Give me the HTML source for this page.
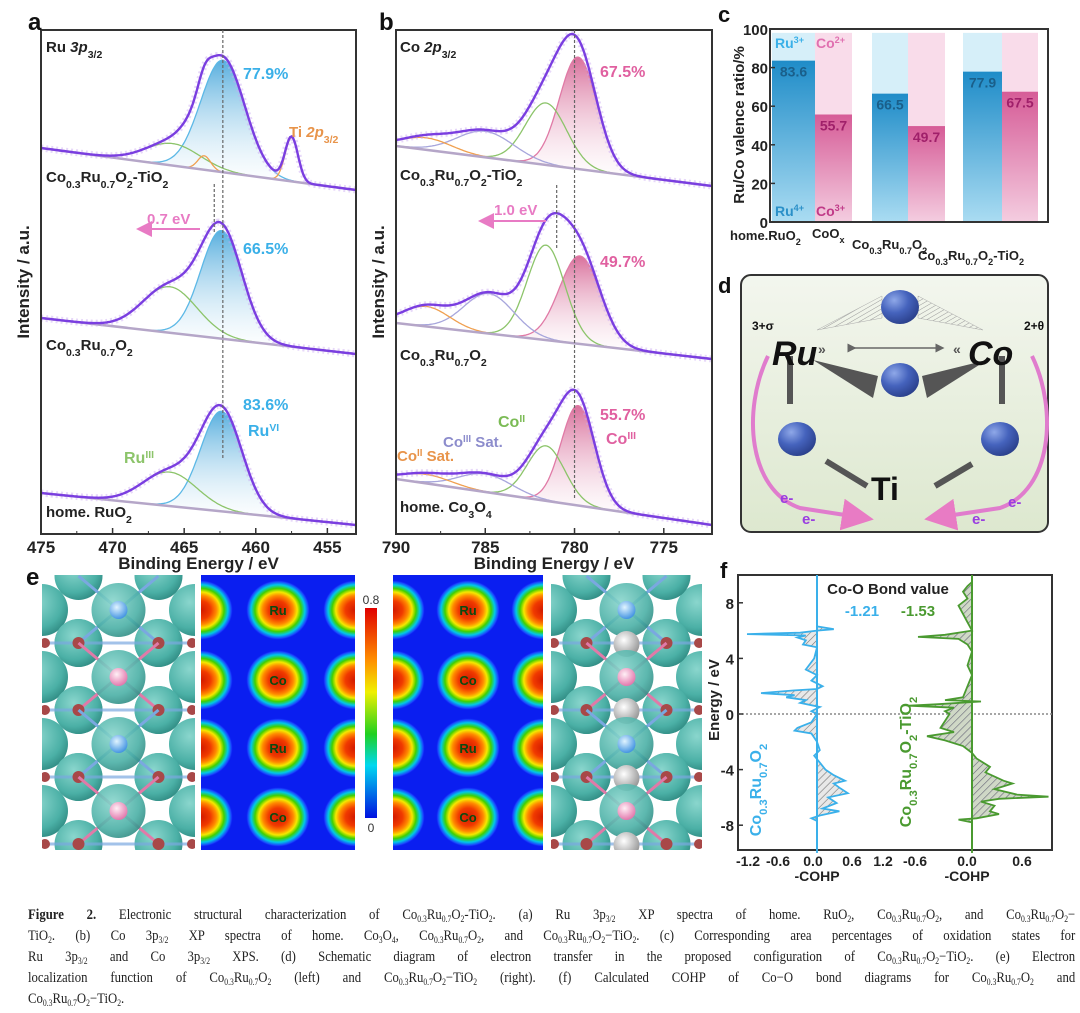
<!DOCTYPE html>
<html><head><meta charset="utf-8">
<style>
body{margin:0;background:#fff;width:1080px;height:1013px;overflow:hidden;position:relative;font-family:"Liberation Sans",sans-serif}
svg{position:absolute;left:0;top:0}
#cap{position:absolute;left:28px;top:905px;width:1232px;transform:scaleX(0.85);transform-origin:0 0;font-family:"Liberation Serif",serif;font-size:15px;line-height:21px;color:#222}
#cap div{text-align:justify;text-align-last:justify;white-space:nowrap}
#cap div.last{text-align-last:left}
sub{font-size:9px;vertical-align:-3px;line-height:0}
</style></head><body>
<svg id="fig" width="1080" height="1013" viewBox="0 0 1080 1013">
<defs>
<linearGradient id="gBlue" x1="0" y1="0" x2="0" y2="1"><stop offset="0" stop-color="#3aa0d8" stop-opacity="0.85"/><stop offset="1" stop-color="#ffffff" stop-opacity="0.2"/></linearGradient>
<linearGradient id="gPink" x1="0" y1="0" x2="0" y2="1"><stop offset="0" stop-color="#d2578a" stop-opacity="0.85"/><stop offset="1" stop-color="#ffffff" stop-opacity="0.2"/></linearGradient>
<linearGradient id="barBlue" x1="0" y1="0" x2="0" y2="1"><stop offset="0" stop-color="#1f8cc8"/><stop offset="1" stop-color="#aadcf2"/></linearGradient>
<linearGradient id="barPink" x1="0" y1="0" x2="0" y2="1"><stop offset="0" stop-color="#d65c97"/><stop offset="1" stop-color="#f4cde0"/></linearGradient>
<linearGradient id="boxG" x1="0" y1="0" x2="0" y2="1"><stop offset="0" stop-color="#f3f6ee"/><stop offset="1" stop-color="#dde8cf"/></linearGradient>
<radialGradient id="ball" cx="0.35" cy="0.3" r="0.75"><stop offset="0" stop-color="#8fa8e8"/><stop offset="0.5" stop-color="#4563bd"/><stop offset="1" stop-color="#2a3f8a"/></radialGradient>
<radialGradient id="blob"><stop offset="0" stop-color="#d21a00"/><stop offset="0.3" stop-color="#f03a00"/><stop offset="0.48" stop-color="#ff8a00"/><stop offset="0.6" stop-color="#f5e800"/><stop offset="0.72" stop-color="#40d000"/><stop offset="0.84" stop-color="#00c8e8"/><stop offset="0.95" stop-color="#1a40ff"/><stop offset="1" stop-color="#0a1ef0" stop-opacity="0"/></radialGradient>
<linearGradient id="cbar" x1="0" y1="0" x2="0" y2="1"><stop offset="0" stop-color="#e00000"/><stop offset="0.25" stop-color="#ff9000"/><stop offset="0.4" stop-color="#f0f000"/><stop offset="0.6" stop-color="#20d020"/><stop offset="0.75" stop-color="#00d8f0"/><stop offset="1" stop-color="#0010e0"/></linearGradient>
<radialGradient id="teal" cx="0.4" cy="0.35" r="0.7"><stop offset="0" stop-color="#8ad6cd"/><stop offset="0.7" stop-color="#4bb0a6"/><stop offset="1" stop-color="#2f8a82"/></radialGradient>
<radialGradient id="atomB" cx="0.4" cy="0.35" r="0.7"><stop offset="0" stop-color="#e0f4ff"/><stop offset="1" stop-color="#3a8ee0"/></radialGradient>
<radialGradient id="atomP" cx="0.4" cy="0.35" r="0.7"><stop offset="0" stop-color="#fff0f6"/><stop offset="1" stop-color="#e070a8"/></radialGradient>
<radialGradient id="atomG" cx="0.4" cy="0.35" r="0.7"><stop offset="0" stop-color="#ffffff"/><stop offset="1" stop-color="#909090"/></radialGradient>
<pattern id="hatch" width="5" height="5" patternUnits="userSpaceOnUse" patternTransform="rotate(45)"><rect width="5" height="5" fill="#e8e8e8"/><line x1="0" y1="0" x2="0" y2="5" stroke="#777" stroke-width="1.2"/></pattern>
<pattern id="hatchG" width="5" height="5" patternUnits="userSpaceOnUse" patternTransform="rotate(45)"><rect width="5" height="5" fill="#cfd8c6"/><line x1="0" y1="0" x2="0" y2="5" stroke="#667" stroke-width="1.2"/></pattern>
<pattern id="hatchD" width="4" height="4" patternUnits="userSpaceOnUse" patternTransform="rotate(60)"><line x1="0" y1="0" x2="0" y2="4" stroke="#999" stroke-width="1"/></pattern>
<marker id="arrP" markerWidth="8" markerHeight="8" refX="4" refY="4" orient="auto"><path d="M0,0 L8,4 L0,8z" fill="#e87bc4"/></marker>
<marker id="arrK" markerWidth="6" markerHeight="6" refX="3" refY="3" orient="auto"><path d="M0,0 L6,3 L0,6z" fill="#666"/></marker>
</defs>
</svg>
<div id="cap">
<div><b>Figure 2.</b> Electronic structural characterization of Co<sub>0.3</sub>Ru<sub>0.7</sub>O<sub>2</sub>-TiO<sub>2</sub>. (a) Ru 3p<sub>3/2</sub> XP spectra of home. RuO<sub>2</sub>, Co<sub>0.3</sub>Ru<sub>0.7</sub>O<sub>2</sub>, and Co<sub>0.3</sub>Ru<sub>0.7</sub>O<sub>2</sub>−</div>
<div>TiO<sub>2</sub>. (b) Co 3p<sub>3/2</sub> XP spectra of home. Co<sub>3</sub>O<sub>4</sub>, Co<sub>0.3</sub>Ru<sub>0.7</sub>O<sub>2</sub>, and Co<sub>0.3</sub>Ru<sub>0.7</sub>O<sub>2</sub>−TiO<sub>2</sub>. (c) Corresponding area percentages of oxidation states for</div>
<div>Ru 3p<sub>3/2</sub> and Co 3p<sub>3/2</sub> XPS. (d) Schematic diagram of electron transfer in the proposed configuration of Co<sub>0.3</sub>Ru<sub>0.7</sub>O<sub>2</sub>−TiO<sub>2</sub>. (e) Electron</div>
<div>localization function of Co<sub>0.3</sub>Ru<sub>0.7</sub>O<sub>2</sub> (left) and Co<sub>0.3</sub>Ru<sub>0.7</sub>O<sub>2</sub>−TiO<sub>2</sub> (right). (f) Calculated COHP of Co−O bond diagrams for Co<sub>0.3</sub>Ru<sub>0.7</sub>O<sub>2</sub> and</div>
<div class="last">Co<sub>0.3</sub>Ru<sub>0.7</sub>O<sub>2</sub>−TiO<sub>2</sub>.</div>
</div>
<script>
// ---------- data ----------
const ruTopPeaks = [[462.3,112,1.55],[465.8,22,1.9],[463.6,14,0.45],[457.5,44,0.45]];
const ruMidPeaks = [[462.4,108,1.45],[466.0,46,1.9]];
const ruBotPeaks = [[462.4,100,1.45],[466.0,34,1.9]];
const ruBaselines = [[148,190],[318,354],[493,525]];
const coTopPeaks = [[779.8,112,1.05],[781.6,62,1.15],[785.0,26,1.6],[788.3,12,1.4]];
const coMidPeaks = [[779.7,88,1.15],[781.6,95,1.05],[784.8,40,1.4],[788.3,20,1.3]];
const coBotPeaks = [[779.8,100,0.95],[781.6,55,1.05],[785.0,18,1.5],[788.3,9,1.4]];
const coBaselines = [[146,186],[323,359],[479,525]];
const cCats = ["home.RuO2/CoOx","Co0.3Ru0.7O2","Co0.3Ru0.7O2-TiO2"];
const ruValues = [83.6,66.5,77.9];
const coValues = [55.7,49.7,67.5];
const cTicks = [0,20,40,60,80,100];
const cohpBlue = [[9.5,0],[6.3,0],[6.1,0.3],[6.0,0],[5.85,-0.3],[5.75,-1.25],[5.65,-0.2],[5.5,-0.35],[5.3,-0.2],[5.0,-0.25],[4.8,0],[4.0,-0.05],[3.2,-0.2],[2.8,0],[2.4,-0.1],[2.0,0.1],[1.8,0],[1.7,-0.4],[1.5,-1.0],[1.35,-0.4],[1.2,-0.55],[1.0,-0.2],[0.8,-0.3],[0.5,0.05],[0.2,-0.1],[0,0],[-0.6,-0.1],[-1.0,-0.35],[-1.2,-0.4],[-1.4,-0.1],[-2.0,0],[-2.6,0.05],[-3.0,-0.05],[-3.5,0.05],[-4.0,0.15],[-4.4,0.3],[-4.8,0.5],[-5.0,0.3],[-5.3,0.4],[-5.7,0.55],[-6.0,0.2],[-6.4,0.35],[-6.8,0.1],[-7.0,0.4],[-7.3,0.05],[-7.5,-0.1],[-7.7,0],[-10,0]];
const cohpGreen = [[9.5,0],[9.2,-0.05],[8.8,-0.1],[8.3,-0.05],[7.8,-0.15],[7.2,-0.1],[6.6,-0.05],[6.0,0],[5.7,-0.3],[5.55,-0.6],[5.4,-0.15],[5.0,-0.05],[4.5,0],[3.5,-0.05],[2.8,0],[2.0,-0.05],[1.2,-0.1],[1.0,-0.3],[0.9,0.1],[0.7,-0.4],[0.6,-0.7],[0.45,-0.2],[0.2,-0.3],[0,-0.25],[-0.5,-0.3],[-1.0,-0.35],[-1.3,-0.2],[-1.6,-0.5],[-1.9,-0.3],[-2.3,-0.1],[-2.8,0],[-3.2,0.05],[-3.8,0.2],[-4.2,0.15],[-4.8,0.35],[-5.0,0.45],[-5.4,0.25],[-5.8,0.5],[-5.95,0.85],[-6.1,0.3],[-6.3,0.1],[-6.6,0.25],[-7.0,0.2],[-7.2,0.3],[-7.5,0.05],[-7.6,-0.15],[-7.8,0],[-10,0]];
const fTicksY = [8,4,0,-4,-8];

// ---------- helpers ----------
const svg = document.getElementById('fig');
const NS = 'http://www.w3.org/2000/svg';
function mk(tag, attrs, parent){const e=document.createElementNS(NS,tag);for(const k in attrs)e.setAttribute(k,attrs[k]);(parent||svg).appendChild(e);return e;}
function txt(x,y,html,attrs,parent){const t=mk('text',Object.assign({x:x,y:y},attrs||{}),parent);t.innerHTML=html;return t;}
const SUB='<tspan baseline-shift="sub" font-size="70%">';
function formula(a,b,c){return 'Co'+SUB+'0.3</tspan>Ru'+SUB+'0.7</tspan>O'+SUB+'2</tspan>'+(c||'');}
function gauss(x,p){return p[1]*Math.exp(-Math.pow(x-p[0],2)/(2*p[2]*p[2]));}

// ---------- XPS panels ----------
function xpsPanel(x0,x1,eL,eR,peaks,bases,colors,fills,name){
  const xs=e=>x0+(eL-e)*(x1-x0)/(eL-eR);
  const g=mk('g',{});
  
  
  peaks.forEach((set,si)=>{
    const bl=bases[si];
    const base=e=>bl[0]+(bl[1]-bl[0])*(eL-e)/(eL-eR);
    const N=220;
    set.forEach((p,pi)=>{
      let d='';
      for(let i=0;i<=N;i++){const e=eL-(eL-eR)*i/N;const y=base(e)-gauss(e,p);d+=(i?'L':'M')+xs(e).toFixed(1)+','+y.toFixed(1);}
      if(fills[pi]){
        let poly=d;for(let i=N;i>=0;i--){const e=eL-(eL-eR)*i/N;poly+='L'+xs(e).toFixed(1)+','+base(e).toFixed(1);}
        const fp=mk('path',{d:poly+'Z',fill:fills[pi],stroke:'none'},g);
        
        
      }
      const cp=mk('path',{d:d,fill:'none',stroke:colors[pi],'stroke-width':1.3},g);
      
      
    });
    const bp=mk('path',{d:'M'+x0+','+bl[0]+'L'+x1+','+bl[1],stroke:'#b5a6c8','stroke-width':2.5,fill:'none'},g);
    
    
    let d='';
    for(let i=0;i<=N;i++){const e=eL-(eL-eR)*i/N;let y=base(e);set.forEach(p=>y-=gauss(e,p));d+=(i?'L':'M')+xs(e).toFixed(1)+','+y.toFixed(1);}
    const sc=mk('path',{d:d,fill:'none',stroke:'#c9a8f2','stroke-width':7,'stroke-opacity':0.45,'stroke-dasharray':'2 3'},g);
    
    
    const ev=mk('path',{d:d,fill:'none',stroke:'#7a3ee0','stroke-width':2.4},g);
    
    
  });
  return xs;
}
const xa=xpsPanel(41,356,475,453,[ruTopPeaks,ruMidPeaks,ruBotPeaks],ruBaselines,['#5cb8e6','#8cc46a','#f0a050','#f0a050'],['url(#gBlue)',null,null,null],'panel-a-spectra');
const xb=xpsPanel(396,712,790,772.3,[coTopPeaks,coMidPeaks,coBotPeaks],coBaselines,['#e07aa6','#8cc46a','#a7a6dc','#f0a050'],['url(#gPink)',null,null,null],'panel-b-spectra');

function xpsAxes(x0,x1,xs,ticks,minor,name){
  const f=mk('rect',{x:x0,y:30,width:x1-x0,height:504,fill:'none',stroke:'#333','stroke-width':2});
  
  
  ticks.forEach(t=>{
    const l=mk('line',{x1:xs(t),x2:xs(t),y1:534,y2:528,stroke:'#333','stroke-width':1.5});
    
    
    const tl=txt(xs(t),553,String(t),{'text-anchor':'middle','font-size':17,'font-weight':'bold',fill:'#222'});
    
    
  });
  minor.forEach(t=>{
    const l=mk('line',{x1:xs(t),x2:xs(t),y1:534,y2:531,stroke:'#333','stroke-width':1});
    
    
  });
  const xt=txt((x0+x1)/2,569,'Binding Energy / eV',{'text-anchor':'middle','font-size':17,'font-weight':'bold',fill:'#222'});
  
  
  const yt=txt(0,0,'Intensity / a.u.',{'text-anchor':'middle','font-size':17,'font-weight':'bold',fill:'#222',transform:'translate('+(x0-12)+',282) rotate(-90)'});
  
  
}
xpsAxes(41,356,xa,[475,470,465,460,455],[472.5,467.5,462.5,457.5],'panel-a');
xpsAxes(396,712,xb,[790,785,780,775],[787.5,782.5,777.5],'panel-b');

[[xa(462.3),30,460],[xa(462.9),184,232],[xb(780),30,500],[xb(781),185,250]].forEach(a=>{
  const l=mk('line',{x1:a[0],x2:a[0],y1:a[1],y2:a[2],stroke:'#666','stroke-width':1.2,'stroke-dasharray':'3 2'});
  
  
});
[[200,138,229],[546,480,221]].forEach(a=>{
  const l=mk('line',{x1:a[0],x2:a[1]+6,y1:a[2],y2:a[2],stroke:'#e87bc4','stroke-width':2,'marker-end':'url(#arrP)'});
  
  
});

const labels=[
 [28,30,'a',24,'#111','panel-a-label'],[379,30,'b',24,'#111','panel-b-label'],[718,22,'c',22,'#111','panel-c-label'],[718,293,'d',22,'#111','panel-d-label'],[26,585,'e',24,'#111','panel-e-label'],[720,578,'f',22,'#111','panel-f-label'],
 [46,52,'Ru <tspan font-style="italic">3p</tspan>'+SUB+'3/2</tspan>',15,'#222','panel-a-title'],
 [400,52,'Co <tspan font-style="italic">2p</tspan>'+SUB+'3/2</tspan>',15,'#222','panel-b-title'],
 [243,79,'77.9%',16,'#3ab0e8','percent-ru-top'],[243,254,'66.5%',16,'#3ab0e8','percent-ru-mid'],[243,410,'83.6%',16,'#3ab0e8','percent-ru-bot'],
 [248,436,'Ru<tspan baseline-shift="super" font-size="65%">VI</tspan>',16,'#3ab0e8','ru-vi-label'],
 [124,463,'Ru<tspan baseline-shift="super" font-size="65%">III</tspan>',16,'#8cc46a','ru-iii-label'],
 [289,137,'Ti <tspan font-style="italic">2p</tspan>'+SUB+'3/2</tspan>',15,'#e8944a','ti-2p-label'],
 [147,224,'0.7 eV',15,'#e87bc4','shift-0.7ev'],[494,215,'1.0 eV',15,'#e87bc4','shift-1.0ev'],
 [600,77,'67.5%',16,'#e060a0','percent-co-top'],[600,267,'49.7%',16,'#e060a0','percent-co-mid'],[600,420,'55.7%',16,'#e060a0','percent-co-bot'],
 [606,444,'Co<tspan baseline-shift="super" font-size="65%">III</tspan>',16,'#e060a0','co-iii-label'],
 [498,427,'Co<tspan baseline-shift="super" font-size="65%">II</tspan>',16,'#7bbb55','co-ii-label'],
 [443,447,'Co<tspan baseline-shift="super" font-size="65%">III</tspan> Sat.',15,'#8c8ccc','co-iii-sat-label'],
 [397,461,'Co<tspan baseline-shift="super" font-size="65%">II</tspan> Sat.',15,'#e8944a','co-ii-sat-label'],
 [46,182,formula()+'-TiO'+SUB+'2</tspan>',15,'#222','label-cro-tio2-a'],[46,350,formula(),15,'#222','label-cro-a'],[46,517,'home. RuO'+SUB+'2</tspan>',15,'#222','label-ruo2'],
 [400,180,formula()+'-TiO'+SUB+'2</tspan>',15,'#222','label-cro-tio2-b'],[400,360,formula(),15,'#222','label-cro-b'],[400,512,'home. Co'+SUB+'3</tspan>O'+SUB+'4</tspan>',15,'#222','label-co3o4']
];
labels.forEach(l=>{const t=txt(l[0],l[1],l[2],{'font-size':l[3],'font-weight':'bold',fill:l[4]});});

// ---------- panel c ----------
const cx0=770,cx1=1048,cyTop=29,cyBot=222;
const yc=v=>cyBot-(v/100)*(cyBot-cyTop);
const barL=[[772,815,852],[872,908,945],[963,1002,1038]];
cCats.forEach((c,i)=>{
  const b=barL[i];
  const bg1=mk('rect',{x:b[0],y:yc(98),width:b[1]-b[0],height:yc(0)-yc(98),fill:'#d6eff9'});
  
  
  const bg2=mk('rect',{x:b[1],y:yc(98),width:b[2]-b[1],height:yc(0)-yc(98),fill:'#f9dcea'});
  
  
  const r1=mk('rect',{x:b[0],y:yc(ruValues[i]),width:b[1]-b[0],height:yc(0)-yc(ruValues[i]),fill:'url(#barBlue)'});
  
  
  const r2=mk('rect',{x:b[1],y:yc(coValues[i]),width:b[2]-b[1],height:yc(0)-yc(coValues[i]),fill:'url(#barPink)'});
  
  
  const t1=txt((b[0]+b[1])/2,yc(ruValues[i])+16,ruValues[i].toFixed(1),{'text-anchor':'middle','font-size':14,'font-weight':'bold',fill:'#1a5f8a'});
  
  
  const t2=txt((b[1]+b[2])/2,yc(coValues[i])+16,coValues[i].toFixed(1),{'text-anchor':'middle','font-size':14,'font-weight':'bold',fill:'#a0206a'});
  
  
});
const cf=mk('rect',{x:cx0,y:cyTop,width:cx1-cx0,height:cyBot-cyTop,fill:'none',stroke:'#333','stroke-width':2});


cTicks.forEach(t=>{
  const l=mk('line',{x1:cx0,x2:cx0+5,y1:yc(t),y2:yc(t),stroke:'#333','stroke-width':1.5});
  
  
  const tl=txt(cx0-2,yc(t)+6,String(t),{'text-anchor':'end','font-size':15,'font-weight':'bold',fill:'#222'});
  
  
});
[[775,48,'Ru<tspan baseline-shift="super" font-size="65%">3+</tspan>','#3ab0e8'],[816,48,'Co<tspan baseline-shift="super" font-size="65%">2+</tspan>','#e070b0'],[775,216,'Ru<tspan baseline-shift="super" font-size="65%">4+</tspan>','#2a90c8'],[816,216,'Co<tspan baseline-shift="super" font-size="65%">3+</tspan>','#c03a88']].forEach((a,i)=>{
  const t=txt(a[0],a[1],a[2],{'font-size':14,'font-weight':'bold',fill:a[3]});
  
  
});
const cyT=txt(0,0,'Ru/Co valence ratio/%',{'text-anchor':'middle','font-size':15,'font-weight':'bold',fill:'#222',transform:'translate(744,125) rotate(-90)'});


[[730,240,'home.RuO'+SUB+'2</tspan>'],[812,238,'CoO'+SUB+'x</tspan>'],[852,249,formula()],[918,260,formula()+'-TiO'+SUB+'2</tspan>']].forEach((a,i)=>{
  const t=txt(a[0],a[1],a[2],{'font-size':13,'font-weight':'bold',fill:'#222'});
  
  
});

// ---------- panel d ----------
const dg=mk('g',{});


const box=mk('rect',{x:741,y:275,width:307,height:257,rx:10,fill:'url(#boxG)',stroke:'#333','stroke-width':2},dg);


const shapes=[
 ['polygon',{points:'817,330 882,296 882,318',fill:'url(#hatchD)',stroke:'#aaa','stroke-width':0.5},'hatched-wedge-left'],
 ['polygon',{points:'983,330 918,296 918,318',fill:'url(#hatchD)',stroke:'#aaa','stroke-width':0.5},'hatched-wedge-right'],
 ['polygon',{points:'813,360 878,376 873,398',fill:'#555'},'wedge-left'],
 ['polygon',{points:'987,360 922,376 927,398',fill:'#555'},'wedge-right'],
 ['line',{x1:790,y1:356,x2:790,y2:404,stroke:'#555','stroke-width':6},'bond-left'],
 ['line',{x1:1002,y1:356,x2:1002,y2:404,stroke:'#555','stroke-width':6},'bond-right'],
 ['line',{x1:826,y1:461,x2:867,y2:486,stroke:'#555','stroke-width':6},'bond-ti-left'],
 ['line',{x1:935,y1:486,x2:972,y2:464,stroke:'#555','stroke-width':6},'bond-ti-right'],
 ['line',{x1:852,y1:348,x2:940,y2:348,stroke:'#666','stroke-width':1.5,'marker-end':'url(#arrK)','marker-start':'url(#arrK)'},'double-arrow'],
 ['path',{d:'M768,356 C742,410 748,490 800,508 L858,517',fill:'none',stroke:'#e07ccd','stroke-width':4,'marker-end':'url(#arrP)'},'electron-arc-left'],
 ['path',{d:'M1032,356 C1058,410 1052,490 1000,508 L940,517',fill:'none',stroke:'#e07ccd','stroke-width':4,'marker-end':'url(#arrP)'},'electron-arc-right']
];
shapes.forEach(s=>{const e=mk(s[0],s[1],dg);});
[[900,307],[900,380],[797,439],[1000,439]].forEach((c,i)=>{
  const b=mk('ellipse',{cx:c[0],cy:c[1],rx:19,ry:17,fill:'url(#ball)'},dg);
  
  
});
[[772,365,'Ru',34,'#111','italic','ru-label'],[968,365,'Co',34,'#111','italic','co-label'],[871,500,'Ti',32,'#111','normal','ti-label'],
 [752,330,'3+σ',12,'#111','normal','ru-charge'],[1024,330,'2+θ',12,'#111','normal','co-charge'],
 [818,354,'»',14,'#555','normal','ru-chevron'],[953,354,'«',14,'#555','normal','co-chevron'],
 [780,503,'e-',15,'#9a3ee0','normal','electron-1'],[802,524,'e-',15,'#9a3ee0','normal','electron-2'],[1008,507,'e-',15,'#9a3ee0','normal','electron-3'],[972,524,'e-',15,'#9a3ee0','normal','electron-4']
].forEach(a=>{const t=txt(a[0],a[1],a[2],{'font-size':a[3],'font-weight':'bold',fill:a[4],'font-style':a[5]},dg);});

// ---------- panel e ----------
function structure(x0,x1,withTi,name){
  const g=mk('g',{});
  
  
  const cid='clip'+name;
  const cp=mk('clipPath',{id:cid},g);mk('rect',{x:x0,y:575,width:x1-x0,height:275},cp);
  const inner=mk('g',{'clip-path':'url(#'+cid+')'},g);
  mk('rect',{x:x0,y:575,width:x1-x0,height:275,fill:'#fff'},inner);
  const cx=(x0+x1)/2;const rows=[610,677,744,811];
  rows.forEach((y,i)=>{
    [x0,x1].forEach(xx=>mk('circle',{cx:xx,cy:y,r:26,fill:'url(#teal)'},inner));
    [cx-40,cx+40].forEach(xx=>{mk('circle',{cx:xx,cy:y+33,r:24,fill:'url(#teal)'},inner);mk('circle',{cx:xx,cy:y-34,r:24,fill:'url(#teal)'},inner);});
  });
  rows.forEach((y,i)=>{
    mk('line',{x1:cx-40,y1:y+33,x2:cx+40,y2:y-34,stroke:i%2?'#e07aa8':'#7aa8e0','stroke-width':3},inner);
    mk('line',{x1:cx+40,y1:y+33,x2:cx-40,y2:y-34,stroke:i%2?'#e07aa8':'#7aa8e0','stroke-width':3},inner);
    mk('line',{x1:x0,y1:y+33,x2:x1,y2:y+33,stroke:'#7aa8e0','stroke-width':3,'stroke-opacity':0.7},inner);
    mk('circle',{cx:cx,cy:y,r:27,fill:'url(#teal)','fill-opacity':0.9},inner);
    if(withTi) mk('circle',{cx:cx,cy:y+34,r:13,fill:'url(#atomG)'},inner);
    mk('circle',{cx:cx,cy:y,r:9,fill:i%2?'url(#atomP)':'url(#atomB)'},inner);
    [cx-40,cx+40].forEach(xx=>mk('circle',{cx:xx,cy:y+33,r:6,fill:'#a84848'},inner));
    [x0+3,x1-3].forEach(xx=>mk('circle',{cx:xx,cy:y+33,r:5,fill:'#a84848'},inner));
  });
}
structure(42,195,false,'elf-structure-left');
structure(551,702,true,'elf-structure-right');
function heatmap(x0,x1,labs,name){
  const g=mk('g',{});
  
  
  const cid='clip'+name;
  const cp=mk('clipPath',{id:cid},g);mk('rect',{x:x0,y:575,width:x1-x0,height:275},cp);
  const inner=mk('g',{'clip-path':'url(#'+cid+')'},g);
  mk('rect',{x:x0,y:575,width:x1-x0,height:275,fill:'#0a1ef0'},inner);
  const cx=(x0+x1)/2;
  [610,680,748,817].forEach((y,i)=>{
    [x0,cx,x1].forEach(xx=>mk('ellipse',{cx:xx,cy:y,rx:32,ry:30,fill:'url(#blob)'},inner));
    const t=txt(cx,y+5,labs[i],{'text-anchor':'middle','font-size':13,fill:'#0b4a10','font-weight':'bold'},inner);
    
    
  });
}
heatmap(201,355,['Ru','Co','Ru','Co'],'elf-map-left');
heatmap(393,543,['Ru','Co','Ru','Co'],'elf-map-right');
const cb=mk('rect',{x:365,y:608,width:12,height:210,fill:'url(#cbar)'});


[[371,604,'0.8'],[371,832,'0']].forEach(a=>{const t=txt(a[0],a[1],a[2],{'text-anchor':'middle','font-size':12,fill:'#333'});});

// ---------- panel f ----------
const fy=E=>714-E*13.9;
const fxB=v=>817+v*56;
const fxG=v=>972+v*90;
const ff=mk('rect',{x:738,y:575,width:314,height:275,fill:'#fff',stroke:'#333','stroke-width':2});


const z=mk('line',{x1:738,x2:1052,y1:fy(0),y2:fy(0),stroke:'#888','stroke-width':1.5,'stroke-dasharray':'2 2'});


function cohp(data,fx,stroke,fill,name){
  let d='';data.forEach((p,i)=>{d+=(i?'L':'M')+fx(p[1]).toFixed(1)+','+fy(p[0]).toFixed(1);});
  const a=mk('path',{d:d+'L'+fx(0)+','+fy(data[data.length-1][0])+'L'+fx(0)+','+fy(data[0][0])+'Z',fill:fill,stroke:'none'});
  
  
  const l=mk('line',{x1:fx(0),x2:fx(0),y1:575,y2:850,stroke:stroke,'stroke-width':2});
  
  
  const p=mk('path',{d:d,fill:'none',stroke:stroke,'stroke-width':1.8});
  
  
}
cohp(cohpBlue,fxB,'#3ab0ea','url(#hatch)','cohp-cro');
cohp(cohpGreen,fxG,'#4a9a30','url(#hatchG)','cohp-cro-tio2');
fTicksY.forEach(t=>{
  const l=mk('line',{x1:738,x2:743,y1:fy(t),y2:fy(t),stroke:'#333','stroke-width':1.5});
  
  
  const tl=txt(734,fy(t)+6,String(t),{'text-anchor':'end','font-size':15,'font-weight':'bold',fill:'#222'});
  
  
});
[[748,'-1.2'],[778,'-0.6'],[813,'0.0'],[852,'0.6'],[883,'1.2'],[915,'-0.6'],[967,'0.0'],[1022,'0.6']].forEach(a=>{
  const t=txt(a[0],866,a[1],{'text-anchor':'middle','font-size':14,'font-weight':'bold',fill:'#222'});
  
  
});
[[817,881],[967,881]].forEach((a,i)=>{const t=txt(a[0],a[1],'-COHP',{'text-anchor':'middle','font-size':14,'font-weight':'bold',fill:'#222'});});
const fyt=txt(0,0,'Energy / eV',{'text-anchor':'middle','font-size':15,'font-weight':'bold',fill:'#222',transform:'translate(719,700) rotate(-90)'});


[[888,594,'Co-O Bond value','#222','middle'],[862,616,'-1.21','#3ab0ea','middle'],[918,616,'-1.53','#4a9a30','middle']].forEach((a,i)=>{
  const t=txt(a[0],a[1],a[2],{'text-anchor':a[4],'font-size':15,'font-weight':'bold',fill:a[3]});
  
  
});
const rl1=txt(0,0,formula(),{'text-anchor':'middle','font-size':16,'font-weight':'bold',fill:'#3ab0ea',transform:'translate(761,790) rotate(-90)'});


const rl2=txt(0,0,formula()+'-TiO'+SUB+'2</tspan>',{'text-anchor':'middle','font-size':16,'font-weight':'bold',fill:'#4a9a30',transform:'translate(911,762) rotate(-90)'});


</script>
</body></html>
